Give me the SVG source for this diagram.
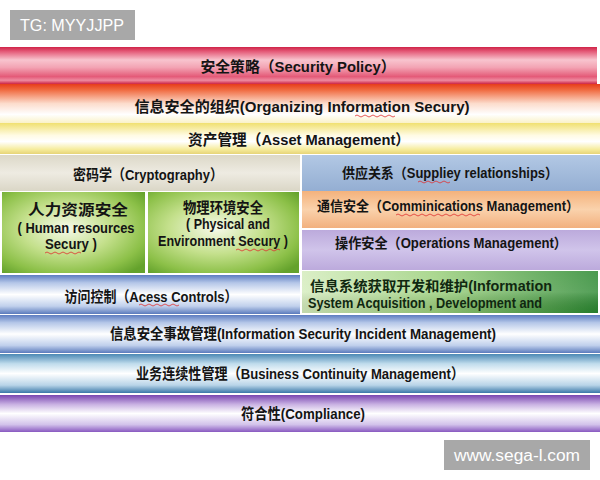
<svg xmlns="http://www.w3.org/2000/svg" width="600" height="480" viewBox="0 0 600 480">
<defs>
<linearGradient id="gRed" x1="0" y1="0" x2="0" y2="1">
<stop offset="0" stop-color="#d02448"/><stop offset="0.12" stop-color="#e45a78"/><stop offset="0.35" stop-color="#f8c4ce"/><stop offset="0.55" stop-color="#f3a4b4"/><stop offset="0.8" stop-color="#e45a78"/><stop offset="0.9" stop-color="#ee8aa0"/><stop offset="1" stop-color="#cc2446"/>
</linearGradient>
<linearGradient id="gOrg" x1="0" y1="0" x2="0" y2="1">
<stop offset="0" stop-color="#e63c1c"/><stop offset="0.15" stop-color="#f06a40"/><stop offset="0.5" stop-color="#fcdccc"/><stop offset="0.78" stop-color="#ffffff"/><stop offset="1" stop-color="#faf2c8"/>
</linearGradient>
<linearGradient id="gYel" x1="0" y1="0" x2="0" y2="1">
<stop offset="0" stop-color="#f0e070"/><stop offset="0.4" stop-color="#fffbe4"/><stop offset="0.6" stop-color="#ffffff"/><stop offset="0.85" stop-color="#f6ec9c"/><stop offset="1" stop-color="#e6d478"/>
</linearGradient>
<linearGradient id="gBeige" x1="0" y1="0" x2="0" y2="1">
<stop offset="0" stop-color="#dcd8c8"/><stop offset="0.5" stop-color="#eeebe2"/><stop offset="1" stop-color="#dad6c6"/>
</linearGradient>
<linearGradient id="gSup" x1="0" y1="0" x2="0" y2="1">
<stop offset="0" stop-color="#b2c8e4"/><stop offset="1" stop-color="#94aed2"/>
</linearGradient>
<radialGradient id="gGreen" cx="0.45" cy="0.45" r="0.7">
<stop offset="0" stop-color="#f6faea"/><stop offset="0.45" stop-color="#c4e08c"/><stop offset="0.8" stop-color="#8cc048"/><stop offset="1" stop-color="#64a22c"/>
</radialGradient>
<linearGradient id="gCom" x1="0" y1="0" x2="0" y2="1">
<stop offset="0" stop-color="#f4b27c"/><stop offset="0.5" stop-color="#fad2ac"/><stop offset="1" stop-color="#f2b07e"/>
</linearGradient>
<linearGradient id="gOps" x1="0" y1="0" x2="0" y2="1">
<stop offset="0" stop-color="#bcaadc"/><stop offset="0.5" stop-color="#d0c4ea"/><stop offset="1" stop-color="#bcaadc"/>
</linearGradient>
<linearGradient id="gBlue" x1="0" y1="0" x2="0" y2="1">
<stop offset="0" stop-color="#5c7cc0"/><stop offset="0.2" stop-color="#b4c6e8"/><stop offset="0.5" stop-color="#ffffff"/><stop offset="0.8" stop-color="#c0d0ec"/><stop offset="1" stop-color="#5a7abc"/>
</linearGradient>
<linearGradient id="gTeal" x1="0" y1="0" x2="0" y2="1">
<stop offset="0" stop-color="#4a88b4"/><stop offset="0.25" stop-color="#c0dcec"/><stop offset="0.5" stop-color="#ffffff"/><stop offset="0.8" stop-color="#b8d4e8"/><stop offset="1" stop-color="#3a78a8"/>
</linearGradient>
<linearGradient id="gPur" x1="0" y1="0" x2="0" y2="1">
<stop offset="0" stop-color="#7846b0"/><stop offset="0.25" stop-color="#c8b0e2"/><stop offset="0.5" stop-color="#ffffff"/><stop offset="0.8" stop-color="#d2c2ea"/><stop offset="1" stop-color="#8858c0"/>
</linearGradient>
<linearGradient id="gInfo" x1="0" y1="0" x2="1" y2="0">
<stop offset="0" stop-color="#d4ecbc"/><stop offset="0.45" stop-color="#9cd07c"/><stop offset="1" stop-color="#2a8830"/>
</linearGradient>
<linearGradient id="gInfoV" x1="0" y1="0" x2="0" y2="1">
<stop offset="0" stop-color="#ffffff" stop-opacity="0.15"/><stop offset="0.5" stop-color="#ffffff" stop-opacity="0.2"/><stop offset="1" stop-color="#000000" stop-opacity="0.08"/>
</linearGradient>
</defs>
<style>
.t{font-family:"Liberation Sans","Noto Sans CJK SC",sans-serif;font-weight:bold;font-size:15px;fill:#141414;}
.s{font-size:14px;}
.c{text-anchor:middle;}
.wm{font-family:"Liberation Sans","DejaVu Sans",sans-serif;font-size:16px;fill:#ffffff;}
.sq{fill:none;stroke:#e03030;stroke-width:0.8;}
</style>
<g id="watermark-top">
<rect x="10" y="10" width="125" height="30" fill="#a8a8a8"/>
<text class="wm" x="20" y="31" textLength="104" lengthAdjust="spacingAndGlyphs">TG: MYYJJPP</text>
</g>
<g id="security-policy">
<rect x="0" y="47" width="597" height="37" fill="url(#gRed)"/>
<text class="t c" x="298" y="72" textLength="195" lengthAdjust="spacingAndGlyphs">安全策略（Security Policy）</text>
</g>
<g id="organizing">
<rect x="0" y="84" width="600" height="39" fill="url(#gOrg)"/>
<text class="t c" x="302" y="112" textLength="335" lengthAdjust="spacingAndGlyphs">信息安全的组织(Organizing Information Secury)</text>
<path class="sq" d="M355 116 q2 -2 4 0 t4 0 t4 0 t4 0 t4 0 t4 0 t4 0 t4 0 t4 0 t4 0"/>
</g>
<g id="asset">
<rect x="0" y="123" width="600" height="31" fill="url(#gYel)"/>
<text class="t c" x="299" y="145" textLength="222" lengthAdjust="spacingAndGlyphs">资产管理（Asset Management）</text>
</g>
<g id="cryptography">
<rect x="0" y="155" width="300" height="36" fill="url(#gBeige)"/>
<text class="t c" x="148" y="180" textLength="150" lengthAdjust="spacingAndGlyphs">密码学（Cryptography）</text>
</g>
<g id="supplier">
<rect x="302" y="155" width="298" height="36" fill="url(#gSup)"/>
<text class="t c s" x="450" y="178" textLength="216" lengthAdjust="spacingAndGlyphs">供应关系（Suppliey relationships）</text>
<path class="sq" d="M418 182 q2 -2 4 0 t4 0 t4 0 t4 0 t4 0 t4 0 t4 0 t4 0"/>
</g>
<g id="human-resources">
<rect x="2" y="192" width="143" height="81" fill="url(#gGreen)"/>
<text class="t c" x="78" y="215" textLength="100" lengthAdjust="spacingAndGlyphs">人力资源安全</text>
<text class="t c s" x="76" y="233" textLength="117" lengthAdjust="spacingAndGlyphs">( Human resources</text>
<text class="t c s" x="71" y="249" textLength="52" lengthAdjust="spacingAndGlyphs">Secury )</text>
<path class="sq" d="M45 253 q2 -2 4 0 t4 0 t4 0 t4 0 t4 0 t4 0 t4 0 t4 0 t4 0"/>
</g>
<g id="physical">
<rect x="148" y="192" width="151" height="81" fill="url(#gGreen)"/>
<text class="t c" x="223" y="213" textLength="80" lengthAdjust="spacingAndGlyphs">物理环境安全</text>
<text class="t c s" x="228" y="229" textLength="84" lengthAdjust="spacingAndGlyphs">( Physical and</text>
<text class="t c s" x="223" y="246" textLength="130" lengthAdjust="spacingAndGlyphs">Environment Secury )</text>
<path class="sq" d="M236 250 q2 -2 4 0 t4 0 t4 0 t4 0 t4 0 t4 0 t4 0 t4 0 t4 0 t4 0 t4 0"/>
</g>
<g id="communications">
<rect x="302" y="191" width="298" height="37" fill="url(#gCom)"/>
<text class="t c s" x="448" y="211" textLength="262" lengthAdjust="spacingAndGlyphs">通信安全（Comminications Management）</text>
<path class="sq" d="M396 215 q2 -2 4 0 t4 0 t4 0 t4 0 t4 0 t4 0 t4 0 t4 0 t4 0 t4 0 t4 0 t4 0 t4 0 t4 0 t4 0 t4 0 t4 0 t4 0 t4 0 t4 0 t4 0"/>
</g>
<g id="operations">
<rect x="302" y="230" width="298" height="40" fill="url(#gOps)"/>
<text class="t c s" x="451" y="248" textLength="232" lengthAdjust="spacingAndGlyphs">操作安全（Operations Management）</text>
</g>
<g id="access-controls">
<rect x="0" y="275" width="300" height="39" fill="url(#gBlue)"/>
<text class="t c" x="151" y="302" textLength="173" lengthAdjust="spacingAndGlyphs">访问控制（Acess Controls）</text>
<path class="sq" d="M139 305 q2 -2 4 0 t4 0 t4 0 t4 0 t4 0 t4 0 t4 0 t4 0 t4 0 t4 0"/>
</g>
<g id="info-systems">
<rect x="302" y="271" width="296" height="42" fill="url(#gInfo)"/>
<rect x="302" y="271" width="296" height="42" fill="url(#gInfoV)"/>
<text class="t s" x="310" y="291" textLength="242" lengthAdjust="spacingAndGlyphs" style="fill:#102810">信息系统获取开发和维护(Information</text>
<text class="t s" x="308" y="308" textLength="234" lengthAdjust="spacingAndGlyphs" style="fill:#102810">System Acquisition , Development and</text>
</g>
<g id="incident">
<rect x="0" y="315" width="600" height="38" fill="url(#gBlue)"/>
<text class="t c" x="303" y="339" textLength="386" lengthAdjust="spacingAndGlyphs">信息安全事故管理(Information Security Incident Management)</text>
</g>
<g id="business-continuity">
<rect x="0" y="354" width="600" height="39" fill="url(#gTeal)"/>
<text class="t c" x="300" y="379" textLength="328" lengthAdjust="spacingAndGlyphs">业务连续性管理（Business Continuity Management）</text>
</g>
<g id="compliance">
<rect x="0" y="395" width="600" height="37" fill="url(#gPur)"/>
<text class="t c" x="303" y="419" textLength="124" lengthAdjust="spacingAndGlyphs">符合性(Compliance)</text>
</g>
<g id="watermark-bottom">
<rect x="444" y="440" width="146" height="30" fill="#a8a8a8"/>
<text class="wm" x="454" y="461" textLength="126" lengthAdjust="spacingAndGlyphs">www.sega-l.com</text>
</g>
</svg>
